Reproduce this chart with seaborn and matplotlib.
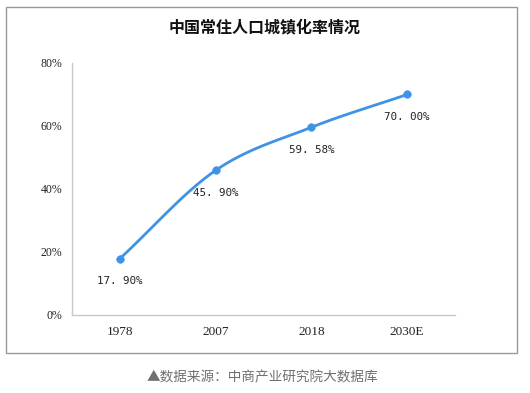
import numpy as np
import pandas as pd
import matplotlib.pyplot as plt
import seaborn as sns
from matplotlib.patches import Rectangle

# -------------------------------
# Data
# -------------------------------
years = ["1978", "2007", "2018", "2030E"]
rate = [17.90, 45.90, 59.58, 70.00]
labels = ["17. 90%", "45. 90%", "59. 58%", "70. 00%"]

df = pd.DataFrame({"x": np.arange(len(years)), "rate": rate})

sns.set_style("white")
plt.rcParams["font.family"] = ["Noto Sans CJK SC", "DejaVu Sans"]

LINE = "#3f93e6"

fig = plt.figure(figsize=(5.3, 3.93), dpi=100)
ax = fig.add_axes([0.1358, 0.1985, 0.7227, 0.6412])

# smooth curve through the points (Catmull-Rom)
pts = df[["x", "rate"]].to_numpy(dtype=float)
ext = np.vstack([pts[0] - (pts[1] - pts[0]), pts, pts[-1] + (pts[-1] - pts[-2])])
curve = []
for i in range(1, len(ext) - 2):
    p0, p1, p2, p3 = ext[i - 1], ext[i], ext[i + 1], ext[i + 2]
    for t in np.linspace(0, 1, 30):
        c = 0.5 * ((2 * p1) + (-p0 + p2) * t
                   + (2 * p0 - 5 * p1 + 4 * p2 - p3) * t ** 2
                   + (-p0 + 3 * p1 - 3 * p2 + p3) * t ** 3)
        curve.append(c)
curve = pd.DataFrame(curve, columns=["x", "rate"])

sns.lineplot(data=curve, x="x", y="rate", ax=ax, color=LINE, linewidth=2.0,
             sort=False, estimator=None)
sns.scatterplot(data=df, x="x", y="rate", ax=ax, color=LINE, s=30,
                edgecolor=LINE, zorder=5)

for xi, yi, lab in zip(df["x"], df["rate"], labels):
    ax.annotate(lab, (xi, yi), xytext=(0, -16), textcoords="offset points",
                ha="center", va="center", fontsize=7.8, color="#222222",
                family=["DejaVu Sans Mono"])

ax.set_xlim(-0.5, len(years) - 0.5)
ax.set_ylim(0, 80)
ax.set_yticks([0, 20, 40, 60, 80])
ax.set_yticklabels([f"{v}%" for v in [0, 20, 40, 60, 80]], fontsize=8.5,
                   family=["Liberation Serif"], color="#222222")
ax.set_xticks(df["x"])
ax.set_xticklabels(years, fontsize=9.5, family=["Liberation Serif"], color="#222222")
ax.set_xticks(np.arange(-0.5, len(years), 1.0), minor=True)
ax.tick_params(axis="x", which="major", length=0, pad=8)
ax.tick_params(axis="x", which="minor", length=4, color="#c8c8c8", direction="out")
ax.tick_params(axis="y", length=4, color="#c8c8c8", direction="out", pad=3)
ax.set_xlabel("")
ax.set_ylabel("")

for s in ["top", "right"]:
    ax.spines[s].set_visible(False)
for s in ["left", "bottom"]:
    ax.spines[s].set_color("#c8c8c8")
    ax.spines[s].set_linewidth(1.0)

# outer frame
fig.patches.append(Rectangle((6 / 530, 1 - 353 / 393), 511 / 530, 346 / 393,
                             transform=fig.transFigure, fill=False,
                             edgecolor="#999999", linewidth=1.0))

fig.text(265 / 530, 1 - 27 / 393, "中国常住人口城镇化率情况", ha="center",
         va="center", fontsize=11.5, fontweight="bold", color="#111111")
fig.text(262 / 530, 1 - 377 / 393, "▲数据来源：中商产业研究院大数据库",
         ha="center", va="center", fontsize=9.8, color="#707070")

plt.savefig("out.png", dpi=100)
